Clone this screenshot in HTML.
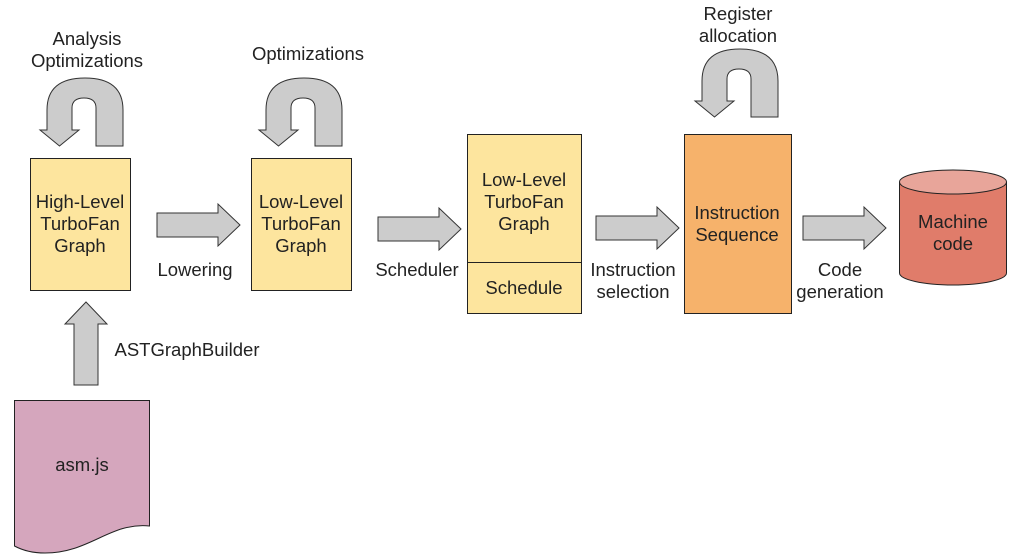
<!DOCTYPE html>
<html><head><meta charset="utf-8"><style>
body{margin:0;background:#fff}
svg{display:block}
text{font-family:"Liberation Sans",sans-serif;font-size:18.5px;fill:#222;text-anchor:middle}
</style></head><body>
<svg width="1024" height="559" viewBox="0 0 1024 559">
<defs>
<path id="u" d="M7,52 L7,32 Q7,0 45,0 Q83,0 83,32 L83,68 L56,68 L56,30 Q56,20 44,20 Q32,20 32,30 L32,52 L39,52 L19.5,68 L0,52 Z" fill="#cccccc" stroke="#333" stroke-width="1"/>
<path id="ha" d="M0,-12 L61,-12 L61,-21 L83,0 L61,21 L61,12 L0,12 Z" fill="#cccccc" stroke="#333" stroke-width="1"/>
</defs>
<g stroke="#222" stroke-width="1">
<rect x="30.5" y="158.5" width="100" height="132" fill="#fde59e"/>
<rect x="251.5" y="158.5" width="100" height="132" fill="#fde59e"/>
<rect x="467.5" y="134.5" width="114" height="179" fill="#fde59e"/>
<line x1="467" y1="262.5" x2="581" y2="262.5"/>
<rect x="684.5" y="134.5" width="107" height="179" fill="#f6b26b"/>
<path d="M899.5,182 L899.5,273 A53.5,12 0 0 0 1006.5,273 L1006.5,182 Z" fill="#e07c6a"/>
<ellipse cx="953" cy="182" rx="53.5" ry="12" fill="#e8a59a"/>
<path d="M14.5,400.5 L149.5,400.5 L149.5,526 C110,522 90,553 45,553 C30,553 20,549 14.5,546 Z" fill="#d5a6bd"/>
</g>
<use href="#u" x="40" y="78"/>
<use href="#u" x="259" y="78"/>
<use href="#u" x="695" y="49"/>
<use href="#ha" x="157" y="225"/>
<use href="#ha" x="378" y="229"/>
<use href="#ha" x="596" y="228"/>
<use href="#ha" x="803" y="228"/>
<use href="#ha" transform="translate(86,385) rotate(-90)"/>
<text x="87" y="45">Analysis</text><text x="87" y="67">Optimizations</text>
<text x="308" y="60">Optimizations</text>
<text x="738" y="20">Register</text><text x="738" y="42">allocation</text>
<text x="80" y="208">High-Level</text><text x="80" y="230">TurboFan</text><text x="80" y="252">Graph</text>
<text x="301" y="208">Low-Level</text><text x="301" y="230">TurboFan</text><text x="301" y="252">Graph</text>
<text x="524" y="186">Low-Level</text><text x="524" y="208">TurboFan</text><text x="524" y="230">Graph</text>
<text x="524" y="294">Schedule</text>
<text x="737" y="219">Instruction</text><text x="737" y="241">Sequence</text>
<text x="953" y="228">Machine</text><text x="953" y="250">code</text>
<text x="195" y="276">Lowering</text>
<text x="417" y="276">Scheduler</text>
<text x="633" y="276">Instruction</text><text x="633" y="298">selection</text>
<text x="840" y="276">Code</text><text x="840" y="298">generation</text>
<text x="187" y="356">ASTGraphBuilder</text>
<text x="82" y="471">asm.js</text>
</svg>
</body></html>
